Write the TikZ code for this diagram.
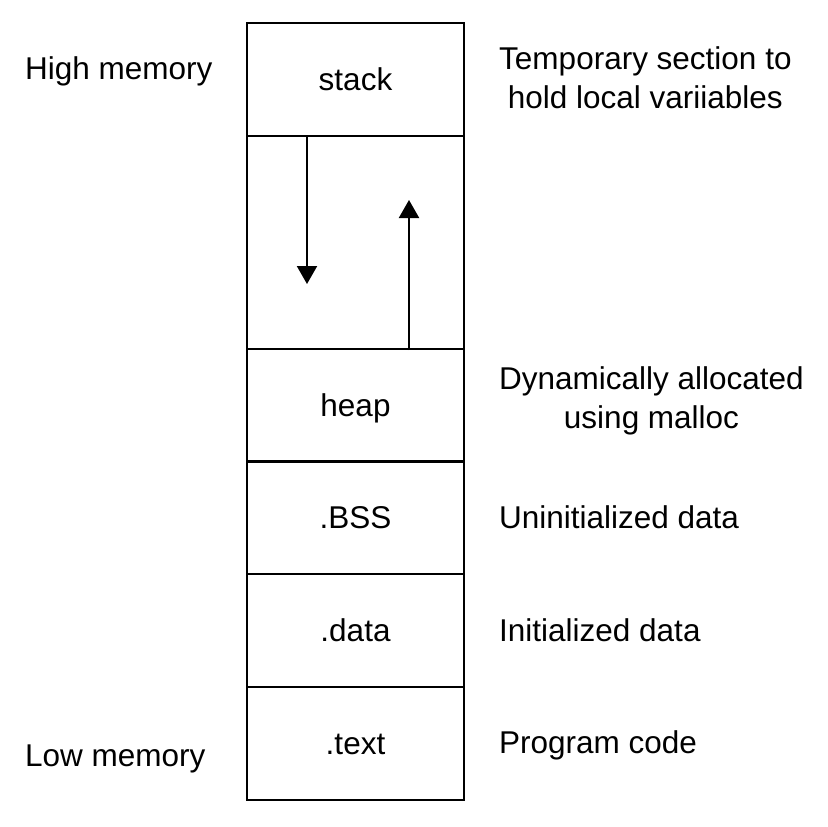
\documentclass[tikz,border=0pt]{standalone}
\usepackage{fontspec}
\setmainfont{Liberation Sans}
\usetikzlibrary{arrows.meta}
\begin{document}
\begin{tikzpicture}[x=1pt,y=-1pt,
  seg/.style={draw=black,line width=2pt,minimum width=217pt,minimum height=113pt,inner sep=0pt,
    text height=22pt,text depth=0pt,font=\fontsize{31.5}{39}\selectfont},
  lbl/.style={inner sep=0pt,font=\fontsize{31.5}{39}\selectfont},
  growarrow/.style={line width=2pt,-{Triangle[length=18pt,width=20pt]}}]
\useasboundingbox (0,0) rectangle (828,827);
\node[seg] (stack) at (355.5,79.5) {stack};
\node[seg,minimum height=213pt] (gap) at (355.5,242.5) {};
\node[seg] (heap) at (355.5,405) {heap};
\node[seg] (bss) at (355.5,517.5) {.BSS};
\node[seg] (data) at (355.5,630.5) {.data};
\node[seg] (text) at (355.5,743) {.text};
\coordinate (downtip) at (307,284);
\coordinate (uptip) at (409,200);
\draw[growarrow] (gap.north -| downtip) -- (downtip);
\draw[growarrow] (gap.south -| uptip) -- (uptip);
\node[lbl,anchor=base west] (high) at (25,79) {High memory};
\node[lbl,anchor=base west] (low) at (25,766) {Low memory};
\node[lbl,anchor=north west,align=center] (tmp) at (499,46) {Temporary section to\\hold local variiables};
\node[lbl,anchor=north west,align=center] (dyn) at (499,366) {Dynamically allocated\\using malloc};
\node[lbl,anchor=base west] (unin) at (499,528) {Uninitialized data};
\node[lbl,anchor=base west] (init) at (499,641) {Initialized data};
\node[lbl,anchor=base west] (prog) at (499,753) {Program code};
\end{tikzpicture}
\end{document}
